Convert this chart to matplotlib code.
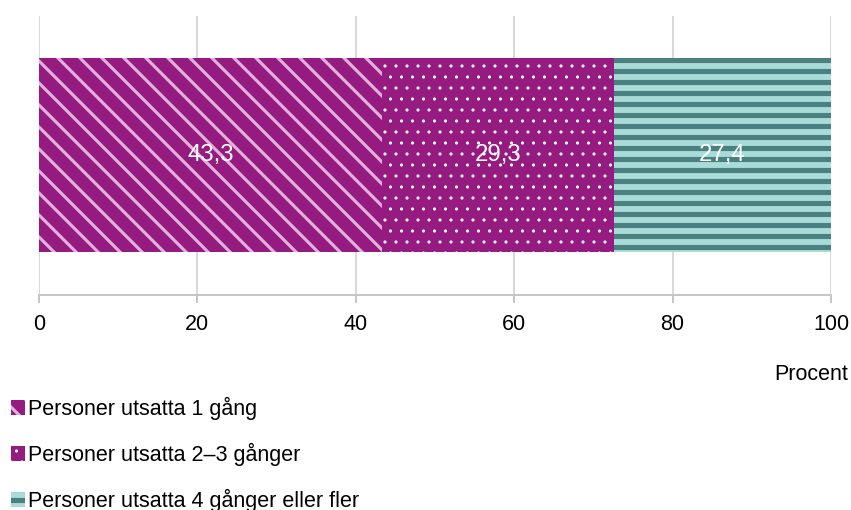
import matplotlib
matplotlib.use("Agg")
import matplotlib.pyplot as plt

# data
categories = ["Personer utsatta 1 gång", "Personer utsatta 2–3 gånger",
              "Personer utsatta 4 gånger eller fler"]
values = [43.3, 29.3, 27.4]
xticks = [0, 20, 40, 60, 80, 100]

facecolors = ["#951b81", "#951b81", "#a9dcd9"]
hatchcolors = ["#e2b1db", "#ffffff", "#4b8080"]
hatches = ["\\", ".", "-"]
hatch_widths = [3.4, 1.0, 5.6]

DPI = 66
W, H = 851, 510


def px(v):
    # pixels -> points at this dpi
    return v * 72.0 / DPI


def set_hw(artist, lw):
    if hasattr(artist, "set_hatch_linewidth"):
        artist.set_hatch_linewidth(lw)
    else:
        artist._hatch_linewidth = lw


plt.rcParams["font.family"] = ["Liberation Sans", "DejaVu Sans"]

fig = plt.figure(figsize=(W / DPI, H / DPI), dpi=DPI)
ax = fig.add_axes([39 / W, 1 - 294.5 / H, 792 / W, 278.5 / H])

left = 0
for i, (cat, v) in enumerate(zip(categories, values)):
    with plt.rc_context({"hatch.linewidth": hatch_widths[i]}):
        bars = ax.barh([0], [v], left=left, height=0.698, color=facecolors[i],
                       edgecolor=hatchcolors[i], linewidth=0, hatch=hatches[i],
                       label=cat)
    for b in bars:
        set_hw(b, hatch_widths[i])
    ax.bar_label(bars, labels=[f"{v:.1f}".replace(".", ",")], label_type="center",
                 color="white", fontsize=px(24))
    left += v

ax.set_xlim(0, 100)
ax.set_ylim(-0.5, 0.5)
ax.set_xticks(xticks)
ax.set_yticks([])
ax.grid(axis="x", color="#d9d9d9", linewidth=px(2))
ax.set_axisbelow(True)
for s in ["top", "right", "left"]:
    ax.spines[s].set_visible(False)
ax.spines["bottom"].set_color("#c6c6c6")
ax.spines["bottom"].set_linewidth(px(2))
ax.tick_params(axis="x", length=px(8), width=px(2), color="#c6c6c6",
               labelsize=px(21.5), pad=px(12), labelcolor="black")

fig.text(848 / W, 1 - 375 / H, "Procent", ha="right", va="center", fontsize=px(21.5))

leg = fig.legend(loc="upper left", bbox_to_anchor=(11 / W, 1 - 397 / H),
                 frameon=False, fontsize=px(21.5), handlelength=0.65, handleheight=0.65,
                 handletextpad=0.12, labelspacing=1.06, borderpad=0, borderaxespad=0)
for p, lw in zip(leg.get_patches(), hatch_widths):
    set_hw(p, lw)

fig.savefig("out.png", dpi=DPI)
